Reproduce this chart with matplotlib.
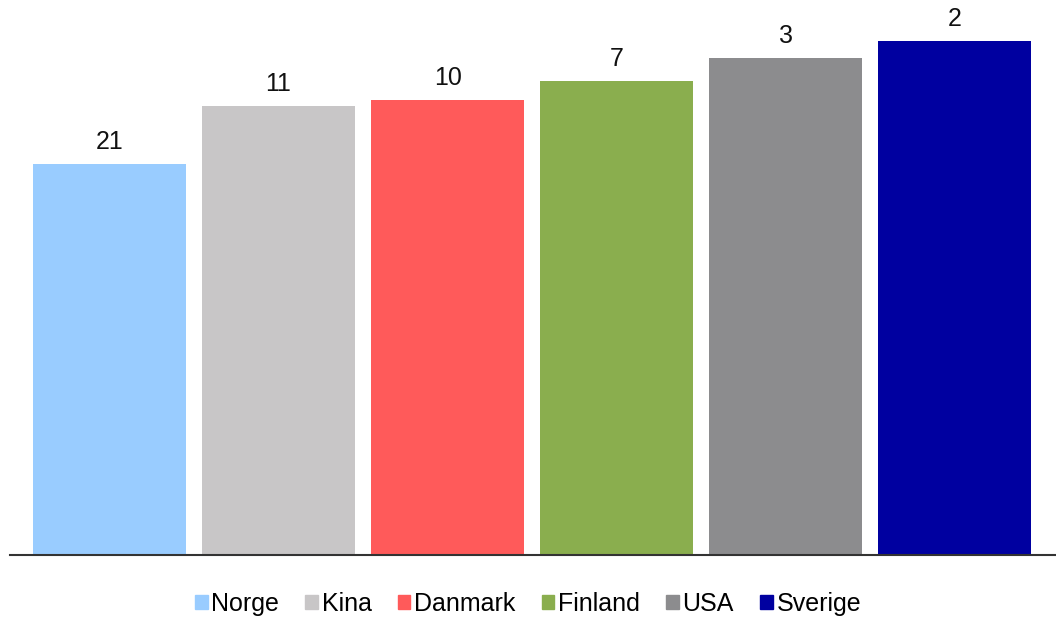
import matplotlib
matplotlib.use("Agg")
import matplotlib.pyplot as plt
from matplotlib.patches import Patch

countries = ["Norge", "Kina", "Danmark", "Finland", "USA", "Sverige"]
heights = [391, 449, 455, 474, 497, 514]
labels = ["21", "11", "10", "7", "3", "2"]
colors = ["#99ccff", "#c8c6c7", "#ff5a5a", "#8aae4e", "#8c8c8e", "#0000a0"]

plt.rcParams["font.family"] = ["Liberation Sans", "DejaVu Sans"]

fig = plt.figure(figsize=(10.56, 6.19), dpi=100)
ax = fig.add_axes([10 / 1056, 1 - 555 / 619, 1046 / 1056, 555 / 619])

x = list(range(len(countries)))
bars = ax.bar(x, heights, width=0.905, color=colors)
for b, lab in zip(bars, labels):
    ax.text(b.get_x() + b.get_width() / 2, b.get_height() + 10, lab,
            ha="center", va="bottom", fontsize=18, color="#111111")

ax.set_xlim(-0.589, 5.6)
ax.set_ylim(0, 555)
for s in ["top", "right", "left"]:
    ax.spines[s].set_visible(False)
ax.spines["bottom"].set_color("#333333")
ax.spines["bottom"].set_linewidth(1.5)
ax.set_xticks([])
ax.set_yticks([])

handles = [Patch(color=c, label=n) for c, n in zip(colors, countries)]
fig.legend(handles=handles, loc="center", bbox_to_anchor=(0.5, 1 - 604 / 619),
           ncol=6, frameon=False, fontsize=18, handlelength=0.5,
           handleheight=0.5, handletextpad=0.15, columnspacing=1.05)

fig.savefig("out.png", dpi=100)
